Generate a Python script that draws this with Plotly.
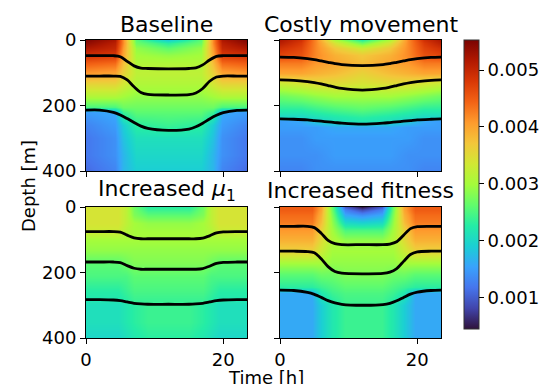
import plotly.graph_objects as go

# ---------------- data ----------------
PANEL_TITLES = ["Baseline", "Costly movement", "Increased <i>μ</i><sub>1</sub>", "Increased fitness"]
X_TICKS = [0, 20]
Y_TICKS = [0, 200, 400]
CB_TICKS = [0.001, 0.002, 0.003, 0.004, 0.005]
C_MIN, C_MAX = 0.00045, 0.00554
T_MAX = 23.45

# --- Baseline heat field: depth nodes, named depth profiles, and the profile used at each time node
depth_base = [0, 10, 25, 45, 70, 100, 130, 170, 205, 220, 260, 300, 350, 400]
base_D0 = [0.0055, 0.0054, 0.0052, 0.0049, 0.0045, 0.0041, 0.0036, 0.0031, 0.0025, 0.0015, 0.0013, 0.0012, 0.0012, 0.0011]
base_D1 = [0.0052, 0.0051, 0.0050, 0.0048, 0.0044, 0.0040, 0.0036, 0.0031, 0.0025, 0.0016, 0.0015, 0.0014, 0.0014, 0.0013]
base_T = [0.0042, 0.0042, 0.0041, 0.0040, 0.0038, 0.0036, 0.0034, 0.0030, 0.0027, 0.0024, 0.0019, 0.0018, 0.0017, 0.0017]
base_M = [0.0026, 0.0027, 0.0029, 0.0030, 0.0031, 0.0032, 0.0031, 0.0029, 0.0027, 0.0026, 0.0023, 0.0021, 0.0020, 0.0019]
base_N = [0.0019, 0.0023, 0.0026, 0.0029, 0.0031, 0.0032, 0.0031, 0.0029, 0.0027, 0.0026, 0.0024, 0.0021, 0.0020, 0.0019]
time_base = [0, 4.2, 5.4, 7.3, 12, 16.7, 18.5, 19.8, T_MAX]
cols_base = ["D0", "D1", "T", "M", "N", "M", "T", "D1", "D0"]

# --- Costly movement
depth_cost = [0, 10, 25, 45, 70, 100, 130, 170, 210, 235, 248, 265, 300, 350, 400]
cost_D0 = [0.0052, 0.0051, 0.0049, 0.0047, 0.0043, 0.0040, 0.0033, 0.0027, 0.0023, 0.0020, 0.0015, 0.0015, 0.0014, 0.0014, 0.0013]
cost_D1 = [0.0049, 0.0048, 0.0047, 0.0046, 0.0043, 0.0040, 0.0034, 0.0028, 0.0023, 0.0020, 0.0016, 0.0015, 0.0014, 0.0014, 0.0013]
cost_T = [0.0042, 0.0042, 0.0042, 0.0042, 0.0041, 0.0039, 0.0035, 0.0029, 0.0024, 0.0021, 0.0019, 0.0015, 0.0015, 0.0014, 0.0014]
cost_M = [0.0031, 0.0034, 0.0037, 0.0039, 0.0040, 0.0038, 0.0035, 0.0030, 0.0025, 0.0022, 0.0021, 0.0016, 0.0015, 0.0015, 0.0014]
cost_N = [0.0023, 0.0027, 0.0033, 0.0037, 0.0038, 0.0036, 0.0034, 0.0030, 0.0026, 0.0023, 0.0022, 0.0016, 0.0015, 0.0015, 0.0014]
time_cost = [0, 3.0, 5.3, 8.0, 12, 16.0, 18.7, 21.0, T_MAX]
cols_cost = ["D0", "D1", "T", "M", "N", "M", "T", "D1", "D0"]

# --- Increased mu1
depth_mu = [0, 25, 50, 75, 100, 130, 170, 210, 250, 280, 300, 350, 400]
mu_D = [0.0034, 0.0034, 0.0034, 0.0033, 0.0030, 0.0029, 0.0026, 0.0025, 0.0023, 0.0022, 0.0021, 0.0021, 0.0020]
mu_T = [0.0032, 0.0032, 0.0032, 0.0031, 0.0030, 0.0029, 0.0027, 0.0025, 0.0024, 0.0023, 0.0022, 0.0022, 0.0021]
mu_M = [0.0027, 0.0028, 0.0030, 0.0030, 0.0030, 0.0029, 0.0028, 0.0026, 0.0025, 0.0024, 0.0023, 0.0023, 0.0022]
mu_N = [0.0023, 0.0026, 0.0029, 0.0030, 0.0030, 0.0029, 0.0028, 0.0026, 0.0025, 0.0024, 0.0024, 0.0024, 0.0023]
time_mu = [0, 4.6, 5.8, 7.0, 9.0, 12, 15.0, 17.0, 18.2, 19.4, T_MAX]
cols_mu = ["D", "D", "T", "M", "N", "N", "N", "M", "T", "D", "D"]

# --- Increased fitness
depth_fit = [0, 10, 25, 45, 70, 100, 135, 170, 205, 245, 262, 300, 350, 400]
fit_D = [0.0045, 0.0045, 0.0044, 0.0043, 0.0041, 0.0039, 0.0036, 0.0030, 0.0026, 0.0023, 0.0016, 0.0016, 0.0016, 0.0016]
fit_T = [0.0040, 0.0040, 0.0039, 0.0038, 0.0036, 0.0035, 0.0033, 0.0030, 0.0027, 0.0024, 0.0022, 0.0019, 0.0019, 0.0019]
fit_M = [0.0027, 0.0027, 0.0028, 0.0029, 0.0030, 0.0031, 0.0030, 0.0029, 0.0027, 0.0025, 0.0024, 0.0022, 0.0022, 0.0022]
fit_N = [0.0010, 0.0013, 0.0016, 0.0020, 0.0025, 0.0029, 0.0030, 0.0029, 0.0028, 0.0026, 0.0025, 0.0024, 0.0024, 0.0024]
fit_C = [0.0005, 0.0009, 0.0014, 0.0019, 0.0025, 0.0029, 0.0030, 0.0029, 0.0028, 0.0026, 0.0025, 0.0024, 0.0024, 0.0024]
time_fit = [0, 4.6, 6.0, 7.6, 9.4, 12, 14.8, 16.4, 18.0, 19.6, T_MAX]
cols_fit = ["D", "D", "T", "M", "N", "C", "N", "M", "T", "D", "D"]

# --- black layer lines (depth in m at LINE_T hours)
LINE_T = [0, 2, 4, 5, 6, 7, 8, 9, 12, 15, 16, 17, 18, 19, 20, 22, T_MAX]
base_L1 = [48, 48, 48, 51, 65, 79, 86, 87, 88, 87, 85, 76, 61, 50, 48, 48, 48]
base_L2 = [110, 110, 110, 111, 122, 143, 160, 166, 168, 167, 162, 148, 126, 113, 110, 110, 110]
base_L3 = [214, 214, 221, 229, 240, 252, 263, 270, 276, 272, 265, 254, 241, 230, 222, 215, 214]
cost_L1 = [52, 53, 57, 60, 64, 68, 72, 75, 78, 75, 72, 68, 64, 60, 57, 53, 52]
cost_L2 = [122, 123, 127, 130, 134, 139, 144, 148, 153, 148, 144, 139, 134, 130, 127, 123, 122]
cost_L3 = [241, 242, 244, 246, 248, 250, 252, 254, 257, 254, 252, 250, 248, 246, 244, 242, 241]
mu_L1 = [75, 75, 75, 77, 86, 94, 97, 97, 97, 97, 97, 95, 88, 79, 76, 75, 75]
mu_L2 = [168, 168, 168, 170, 179, 187, 190, 190, 190, 190, 190, 188, 181, 172, 169, 168, 168]
mu_L3 = [283, 283, 284, 286, 290, 294, 296, 297, 297, 297, 296, 294, 290, 286, 284, 283, 283]
fit_L1 = [59, 59, 59, 63, 80, 102, 112, 115, 115, 115, 113, 106, 86, 66, 60, 59, 59]
fit_L2 = [135, 135, 136, 140, 158, 182, 197, 202, 204, 203, 199, 188, 166, 145, 137, 135, 135]
fit_L3 = [254, 255, 261, 267, 276, 286, 293, 297, 300, 298, 294, 286, 276, 266, 260, 255, 254]

# ---------------- build ----------------
W, H = 558, 384
FONT = "DejaVu Sans"

def px_x(p):
    return p / W

def px_y(p):
    return 1 - p / H

# panel boxes (left, right, top, bottom) in pixels
boxes = [(86, 247, 40, 171), (280, 441, 40, 171), (86, 247, 207, 338), (280, 441, 207, 338)]
title_y = [24, 24, 191, 190]

panels = [
    (depth_base, time_base, cols_base,
     {"D0": base_D0, "D1": base_D1, "T": base_T, "M": base_M, "N": base_N}, [base_L1, base_L2, base_L3]),
    (depth_cost, time_cost, cols_cost,
     {"D0": cost_D0, "D1": cost_D1, "T": cost_T, "M": cost_M, "N": cost_N}, [cost_L1, cost_L2, cost_L3]),
    (depth_mu, time_mu, cols_mu,
     {"D": mu_D, "T": mu_T, "M": mu_M, "N": mu_N}, [mu_L1, mu_L2, mu_L3]),
    (depth_fit, time_fit, cols_fit,
     {"D": fit_D, "T": fit_T, "M": fit_M, "N": fit_N, "C": fit_C}, [fit_L1, fit_L2, fit_L3]),
]

fig = go.Figure()
for k, (depths, times, cols, profs, lines) in enumerate(panels):
    xa = "x" if k == 0 else f"x{k+1}"
    ya = "y" if k == 0 else f"y{k+1}"
    z = [[profs[c][i] for c in cols] for i in range(len(depths))]
    fig.add_trace(go.Heatmap(x=times, y=depths, z=z, coloraxis="coloraxis",
                             zsmooth="best", xaxis=xa, yaxis=ya, hoverinfo="skip"))
    for L in lines:
        fig.add_trace(go.Scatter(x=LINE_T, y=L, mode="lines", xaxis=xa, yaxis=ya,
                                 line=dict(color="black", width=2.8, shape="spline", smoothing=0.8),
                                 showlegend=False, hoverinfo="skip"))

layout = dict(
    template="none",
    width=W, height=H, margin=dict(l=0, r=0, t=0, b=0, pad=0, autoexpand=False),
    paper_bgcolor="white", plot_bgcolor="white", showlegend=False,
    font=dict(family=FONT, size=18, color="black"),
    coloraxis=dict(
        colorscale="Turbo", cmin=C_MIN, cmax=C_MAX,
        colorbar=dict(x=px_x(464), xanchor="left", y=px_y(39.5), yanchor="top",
                      len=(328 - 39.5) / H, lenmode="fraction", thickness=15, thicknessmode="pixels",
                      xpad=0, ypad=0, outlinewidth=1, outlinecolor="#333333",
                      title=dict(text="", side="right"),
                      tickvals=CB_TICKS, ticktext=[f"{v:.3f}" for v in CB_TICKS],
                      ticks="outside", ticklen=5, tickwidth=1.1, tickcolor="black",
                      tickfont=dict(family=FONT, size=18, color="black")),
    ),
)

annotations = []
for k, (l, r, t, b) in enumerate(boxes):
    sx = "" if k == 0 else str(k + 1)
    axis_common = dict(showline=True, linecolor="black", linewidth=1.1, mirror=True,
                       ticks="outside", ticklen=5, tickwidth=1.1, tickcolor="black",
                       showgrid=False, zeroline=False, automargin=False,
                       tickfont=dict(family=FONT, size=18, color="black"))
    layout[f"xaxis{sx}"] = dict(domain=[px_x(l), px_x(r)], anchor=f"y{sx}", range=[0, T_MAX],
                                tickvals=X_TICKS, showticklabels=(k >= 2), **axis_common)
    layout[f"yaxis{sx}"] = dict(domain=[px_y(b), px_y(t)], anchor=f"x{sx}", range=[400, 0],
                                tickvals=Y_TICKS, showticklabels=(k % 2 == 0), **axis_common)
    annotations.append(dict(text=PANEL_TITLES[k], x=px_x((l + r) / 2), y=px_y(title_y[k]),
                            xref="paper", yref="paper", xanchor="center", yanchor="middle",
                            showarrow=False, font=dict(family=FONT, size=22, color="black")))

annotations.append(dict(text="Depth [m]", x=px_x(28), y=px_y(186), xref="paper", yref="paper",
                        xanchor="center", yanchor="middle", textangle=-90, showarrow=False,
                        font=dict(family=FONT, size=18, color="black")))
annotations.append(dict(text="Time [h]", x=px_x(266), y=px_y(377), xref="paper", yref="paper",
                        xanchor="center", yanchor="middle", showarrow=False,
                        font=dict(family=FONT, size=18, color="black")))
layout["annotations"] = annotations

fig.update_layout(**layout)
fig.write_html("out.html")
